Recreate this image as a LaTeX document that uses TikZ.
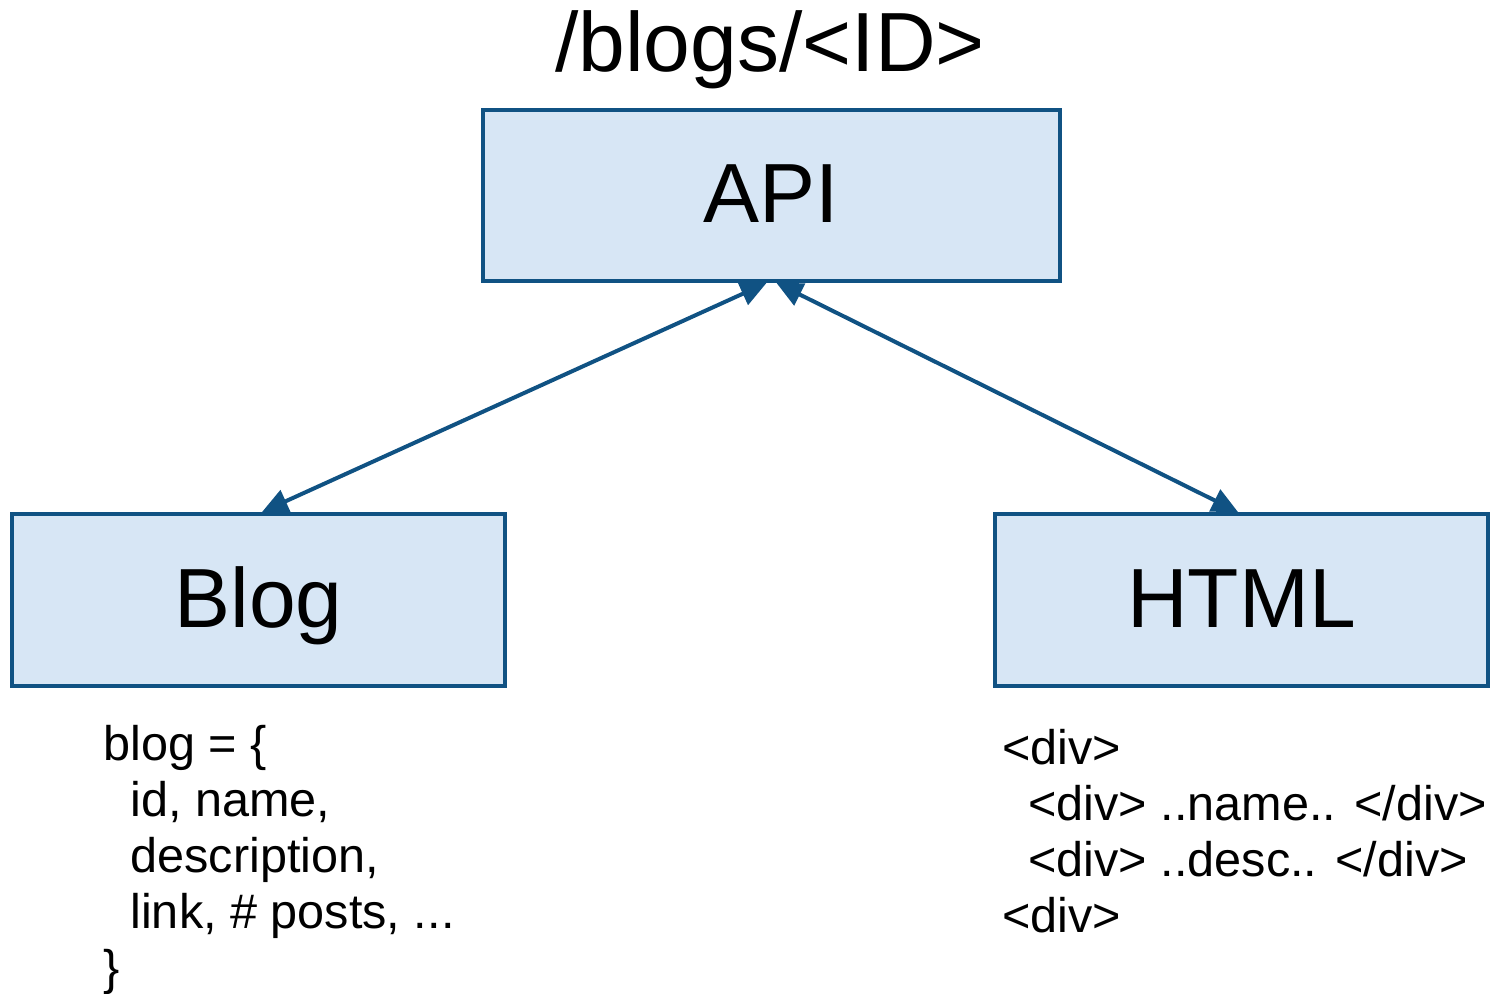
\documentclass[tikz,border=0pt]{standalone}
\usepackage{fontspec}
\setmainfont{Liberation Sans}
\usetikzlibrary{arrows.meta}
\definecolor{boxline}{HTML}{105283}
\definecolor{boxfill}{HTML}{D7E6F5}
\tikzset{
  bigbox/.style={draw=boxline, fill=boxfill, line width=2pt, inner sep=0pt,
    font=\fontsize{42}{50}\selectfont, text height=27pt, text depth=0pt},
  conn/.style={draw=boxline, line width=2pt,
    {Triangle[length=13pt,width=12pt]}-{Triangle[length=13pt,width=12pt]}},
  codeline/.style={anchor=base west, inner sep=0pt, font=\fontsize{24.3}{28}\selectfont},
  titletext/.style={anchor=base, inner sep=0pt, font=\fontsize{42}{50}\selectfont}
}
\begin{document}
\begin{tikzpicture}[x=0.5pt, y=-0.5pt]
\useasboundingbox (0,0) rectangle (1494,994);
\node[titletext] (title) at (770,72) {/blogs/<ID>};
\node[bigbox, minimum width=288.5pt, minimum height=85.5pt] (api) at (771.5,195.5) {API};
\node[bigbox, minimum width=246.5pt, minimum height=86pt] (blog) at (258.5,600) {Blog};
\node[bigbox, minimum width=246.5pt, minimum height=86pt] (html) at (1241.5,600) {HTML};
\draw[conn] ([xshift=-2.5pt]api.south) -- ([xshift=1.75pt]blog.north);
\draw[conn] ([xshift=2.5pt]api.south) -- ([xshift=-1.75pt]html.north);
\node[codeline] (b1) at (103,760) {blog = \{};
\node[codeline] (b2) at (130,816) {id, name,};
\node[codeline] (b3) at (130,872) {description,};
\node[codeline] (b4) at (130,928) {link, \# posts, ...};
\node[codeline] (b5) at (103,984) {\}};
\node[codeline] (h1) at (1002,764) {<div>};
\node[codeline] (h2) at (1028,820) {<div> ..name.. </div>};
\node[codeline] (h3) at (1028,876) {<div> ..desc.. </div>};
\node[codeline] (h4) at (1002,932) {<div>};
\end{tikzpicture}
\end{document}
